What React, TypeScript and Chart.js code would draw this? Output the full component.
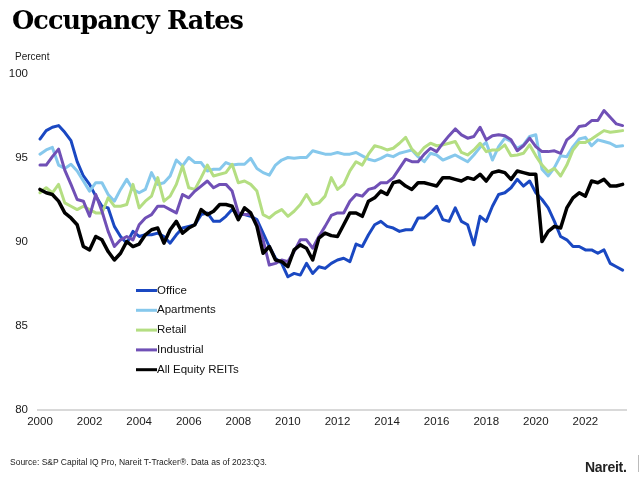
import React, { useEffect, useRef } from "react";
import { Chart, registerables } from "chart.js";

Chart.register(...registerables);

// Quarterly data, 2000:Q1 .. 2023:Q3
const tickYears = [2000, 2002, 2004, 2006, 2008, 2010, 2012, 2014, 2016, 2018, 2020, 2022];
const startYear = 2000;

const office = [
  96.1, 96.6, 96.8, 96.9, 96.5, 96.0, 94.75, 93.9, 93.4, 92.7, 92.1, 92.0, 90.9, 90.3, 89.9, 90.6,
  90.3, 90.4, 90.4, 90.5, 90.3, 89.9, 90.4, 90.8, 90.9, 91.0, 91.6, 91.7, 91.2, 91.2, 91.5, 91.9,
  91.6, 91.6, 91.5, 91.3, 90.5, 89.7, 89.0, 88.7, 87.9, 88.1, 88.0, 88.7, 88.1, 88.5, 88.4, 88.7,
  88.9, 89.0, 88.8, 89.85, 89.7, 90.4, 91.0, 91.2, 90.9, 90.8, 90.6, 90.7, 90.7, 91.4, 91.4, 91.7,
  92.1, 91.3, 91.2, 92.0, 91.2, 91.0, 89.8, 91.5, 91.2, 92.1, 92.8, 92.9, 93.2, 93.7, 93.3, 93.6,
  92.9, 92.5, 92.0, 91.2, 90.3, 90.1, 89.7, 89.7, 89.5, 89.5, 89.3, 89.5, 88.7, 88.5, 88.3,
];

const apartments = [
  95.2, 95.45, 95.6, 94.55, 94.35, 94.6, 94.2, 93.6, 93.0, 93.5, 93.5, 92.8, 92.4, 93.1, 93.7, 93.1,
  92.9, 93.1, 94.1, 93.4, 93.5, 93.9, 94.85, 94.5, 95.0, 94.7, 94.7, 94.2, 94.3, 94.3, 94.7, 94.55,
  94.6, 94.6, 94.95, 94.35, 94.1, 93.95, 94.55, 94.85, 95.0, 94.95, 95.0, 95.0, 95.4, 95.3, 95.2, 95.2,
  95.3, 95.2, 95.2, 95.3, 95.1, 94.9, 94.8, 94.95, 95.15, 95.05, 95.25, 95.35, 95.45, 95.05, 94.75, 95.25,
  95.15, 94.85, 95.0, 95.15, 94.95, 94.75, 95.15, 95.6, 95.9, 94.85, 95.65, 96.15, 95.95, 95.55, 95.75, 96.25,
  96.35, 94.3, 93.9, 94.4, 95.1, 95.05, 95.65, 96.1, 96.2, 95.7, 96.05, 95.95, 95.85, 95.65, 95.7,
];

const retail = [
  92.9, 93.2, 92.9, 93.4, 92.3, 92.1, 91.9, 92.1, 91.9, 91.7, 91.7, 92.6, 92.1, 92.1, 92.2, 93.4,
  92.0, 92.4, 92.7, 93.8, 92.4, 92.7, 93.4, 94.5, 93.2, 93.1, 93.8, 94.55, 93.9, 94.0, 94.1, 94.6,
  93.5, 93.6, 93.4, 93.0, 91.6, 91.4, 91.7, 91.9, 91.5, 91.8, 92.2, 92.8, 92.2, 92.3, 92.7, 93.8,
  93.1, 93.4, 94.2, 94.75, 94.55, 95.2, 95.7, 95.6, 95.45, 95.55, 95.85, 96.2, 95.5, 95.15, 95.6, 95.85,
  95.7, 95.75, 95.85, 95.95, 95.3, 95.15, 95.45, 95.85, 95.35, 95.45, 95.45, 95.75, 95.1, 95.15, 95.25, 95.75,
  95.1, 94.55, 94.15, 94.35, 93.9, 94.55, 95.45, 95.9, 95.9, 96.1, 96.35, 96.6, 96.5, 96.55, 96.6,
];

const industrial = [
  94.55, 94.55, 95.05, 95.5, 94.25, 93.4, 92.5, 92.4, 91.5, 92.8, 91.8, 90.6, 89.7, 90.1, 90.3, 90.1,
  91.0, 91.4, 91.6, 92.1, 92.1, 91.9, 91.7, 92.8, 92.6, 93.0, 93.3, 93.6, 93.2, 93.4, 93.4, 93.0,
  91.7, 91.6, 91.6, 91.1, 90.1, 88.6, 88.7, 88.9, 88.8, 89.4, 90.1, 90.1, 89.6, 90.3, 90.9, 91.55,
  91.7, 91.7, 92.4, 92.8, 92.7, 93.1, 93.2, 93.5, 93.5, 93.8, 94.35, 94.9, 94.75, 94.75, 95.2, 95.55,
  95.35, 95.85, 96.3, 96.7, 96.35, 96.15, 96.25, 96.8, 96.05, 96.3, 96.35, 96.3, 96.05, 95.4, 95.7, 96.15,
  95.65, 95.35, 95.35, 95.4, 95.25, 96.05, 96.35, 96.85, 96.9, 97.2, 97.2, 97.8, 97.4, 97.0, 96.9,
];

const allEquity = [
  93.1, 92.9, 92.8, 92.4, 91.7, 91.4, 91.0, 89.7, 89.5, 90.3, 90.1, 89.4, 88.9, 89.3, 90.0, 89.7,
  89.85, 90.4, 90.7, 90.8, 89.9, 90.7, 91.2, 90.5, 90.8, 91.0, 91.9, 91.6, 91.8, 92.2, 92.2, 92.1,
  91.3, 92.0, 91.7, 90.9, 89.3, 89.7, 88.9, 88.8, 88.5, 89.5, 89.8, 89.6, 88.9, 90.2, 90.5, 90.35,
  90.3, 91.0, 91.7, 91.7, 91.5, 92.4, 92.6, 93.0, 92.8, 93.5, 93.6, 93.3, 93.1, 93.5, 93.5, 93.4,
  93.3, 93.8, 93.8, 93.7, 93.6, 93.8, 93.7, 94.0, 93.6, 94.1, 94.2, 94.1, 93.7, 94.2, 94.1, 94.0,
  94.0, 90.0, 90.6, 90.9, 90.8, 92.0, 92.6, 92.9, 92.7, 93.6, 93.5, 93.7, 93.3, 93.3, 93.4,
];

const seriesNames = ["Office", "Apartments", "Retail", "Industrial", "All Equity REITs"];
const seriesColors = ["#1a48c2", "#86c8ec", "#b4de82", "#7050b6", "#000000"];
const seriesWidths = [3, 3, 3, 3, 3.5];
const seriesOrder = [4, 3, 2, 1, 0];
const seriesValues = [office, apartments, retail, industrial, allEquity];

const SANS = "'Liberation Sans', Arial, sans-serif";

const floatLegend = {
  id: "floatLegend",
  afterDraw(chart: any) {
    const ctx = chart.ctx as CanvasRenderingContext2D;
    ctx.save();
    ctx.font = `11.5px ${SANS}`;
    ctx.textBaseline = "middle";
    ctx.textAlign = "left";
    chart.data.datasets.forEach((ds: any, k: number) => {
      const y = 290.5 + k * 19.8;
      ctx.beginPath();
      ctx.strokeStyle = ds.borderColor;
      ctx.lineWidth = 3;
      ctx.moveTo(136, y);
      ctx.lineTo(157, y);
      ctx.stroke();
      ctx.fillStyle = "#111";
      ctx.fillText(ds.label, 157, y);
    });
    ctx.restore();
  },
};

export default function App() {
  const ref = useRef<HTMLCanvasElement | null>(null);

  useEffect(() => {
    if (!ref.current) return;
    const chart = new Chart(ref.current, {
      type: "line",
      data: {
        datasets: seriesValues.map((vals, k) => ({
          label: seriesNames[k],
          data: vals.map((v, i) => ({ x: i, y: v })),
          borderColor: seriesColors[k],
          backgroundColor: seriesColors[k],
          borderWidth: seriesWidths[k],
          pointRadius: 0,
          tension: 0,
          borderJoinStyle: "round",
          borderCapStyle: "round",
          order: seriesOrder[k],
        })),
      },
      options: {
        animation: false,
        responsive: false,
        maintainAspectRatio: false,
        layout: { padding: { left: 0, right: 14, top: 73.5, bottom: 47.5 } },
        plugins: {
          legend: { display: false },
          tooltip: { enabled: false },
          title: { display: false },
        },
        scales: {
          x: {
            type: "linear",
            min: -0.32,
            max: 94.55,
            afterBuildTicks: (s: any) => {
              s.ticks = tickYears.map((y) => ({ value: (y - startYear) * 4 }));
            },
            afterFit: (s: any) => {
              s.height = 22;
            },
            ticks: {
              autoSkip: false,
              maxRotation: 0,
              padding: 5,
              color: "#1a1a1a",
              font: { family: SANS, size: 11.5 },
              callback: (v: any) => String(startYear + Number(v) / 4),
            },
            grid: { display: false, drawTicks: false },
            border: { display: true, color: "#d9d9d9", width: 2 },
          },
          y: {
            min: 80,
            max: 100,
            afterFit: (s: any) => {
              s.width = 38;
            },
            ticks: {
              stepSize: 5,
              padding: 10,
              color: "#1a1a1a",
              font: { family: SANS, size: 11.5 },
            },
            grid: { display: false, drawTicks: false },
            border: { display: false },
          },
        },
      },
      plugins: [floatLegend],
    } as any);
    return () => chart.destroy();
  }, []);

  return (
    <div
      style={{
        position: "fixed",
        left: 0,
        top: 0,
        width: 640,
        height: 479,
        background: "#fff",
        overflow: "hidden",
      }}
    >
      <canvas
        ref={ref}
        width={640}
        height={479}
        style={{ position: "absolute", left: 0, top: 0, width: 640, height: 479 }}
      />
      <div
        style={{
          position: "absolute",
          left: 12,
          top: 7,
          fontFamily: "'DejaVu Serif', serif",
          fontWeight: 700,
          fontSize: 25.5,
          letterSpacing: "-0.9px",
          lineHeight: "26px",
          color: "#000",
          whiteSpace: "nowrap",
        }}
      >
        Occupancy Rates
      </div>
      <div
        style={{
          position: "absolute",
          left: 15,
          top: 52,
          fontFamily: SANS,
          fontSize: 10,
          lineHeight: "10px",
          color: "#1a1a1a",
        }}
      >
        Percent
      </div>
      <div
        style={{
          position: "absolute",
          left: 10,
          top: 457,
          fontFamily: SANS,
          fontSize: 8.5,
          lineHeight: "10px",
          color: "#222",
          whiteSpace: "nowrap",
        }}
      >
        Source: S&amp;P Capital IQ Pro, Nareit T-Tracker®. Data as of 2023:Q3.
      </div>
      <div
        style={{
          position: "absolute",
          left: 585,
          top: 459,
          fontFamily: "'Liberation Sans Narrow', 'Liberation Sans', Arial, sans-serif",
          fontWeight: 900,
          fontSize: 14,
          letterSpacing: "-0.3px",
          lineHeight: "16px",
          color: "#222",
          whiteSpace: "nowrap",
        }}
      >
        Nareit.
      </div>
      <div
        style={{
          position: "absolute",
          left: 638,
          top: 455,
          width: 1,
          height: 17,
          background: "#bbb",
        }}
      />
    </div>
  );
}
